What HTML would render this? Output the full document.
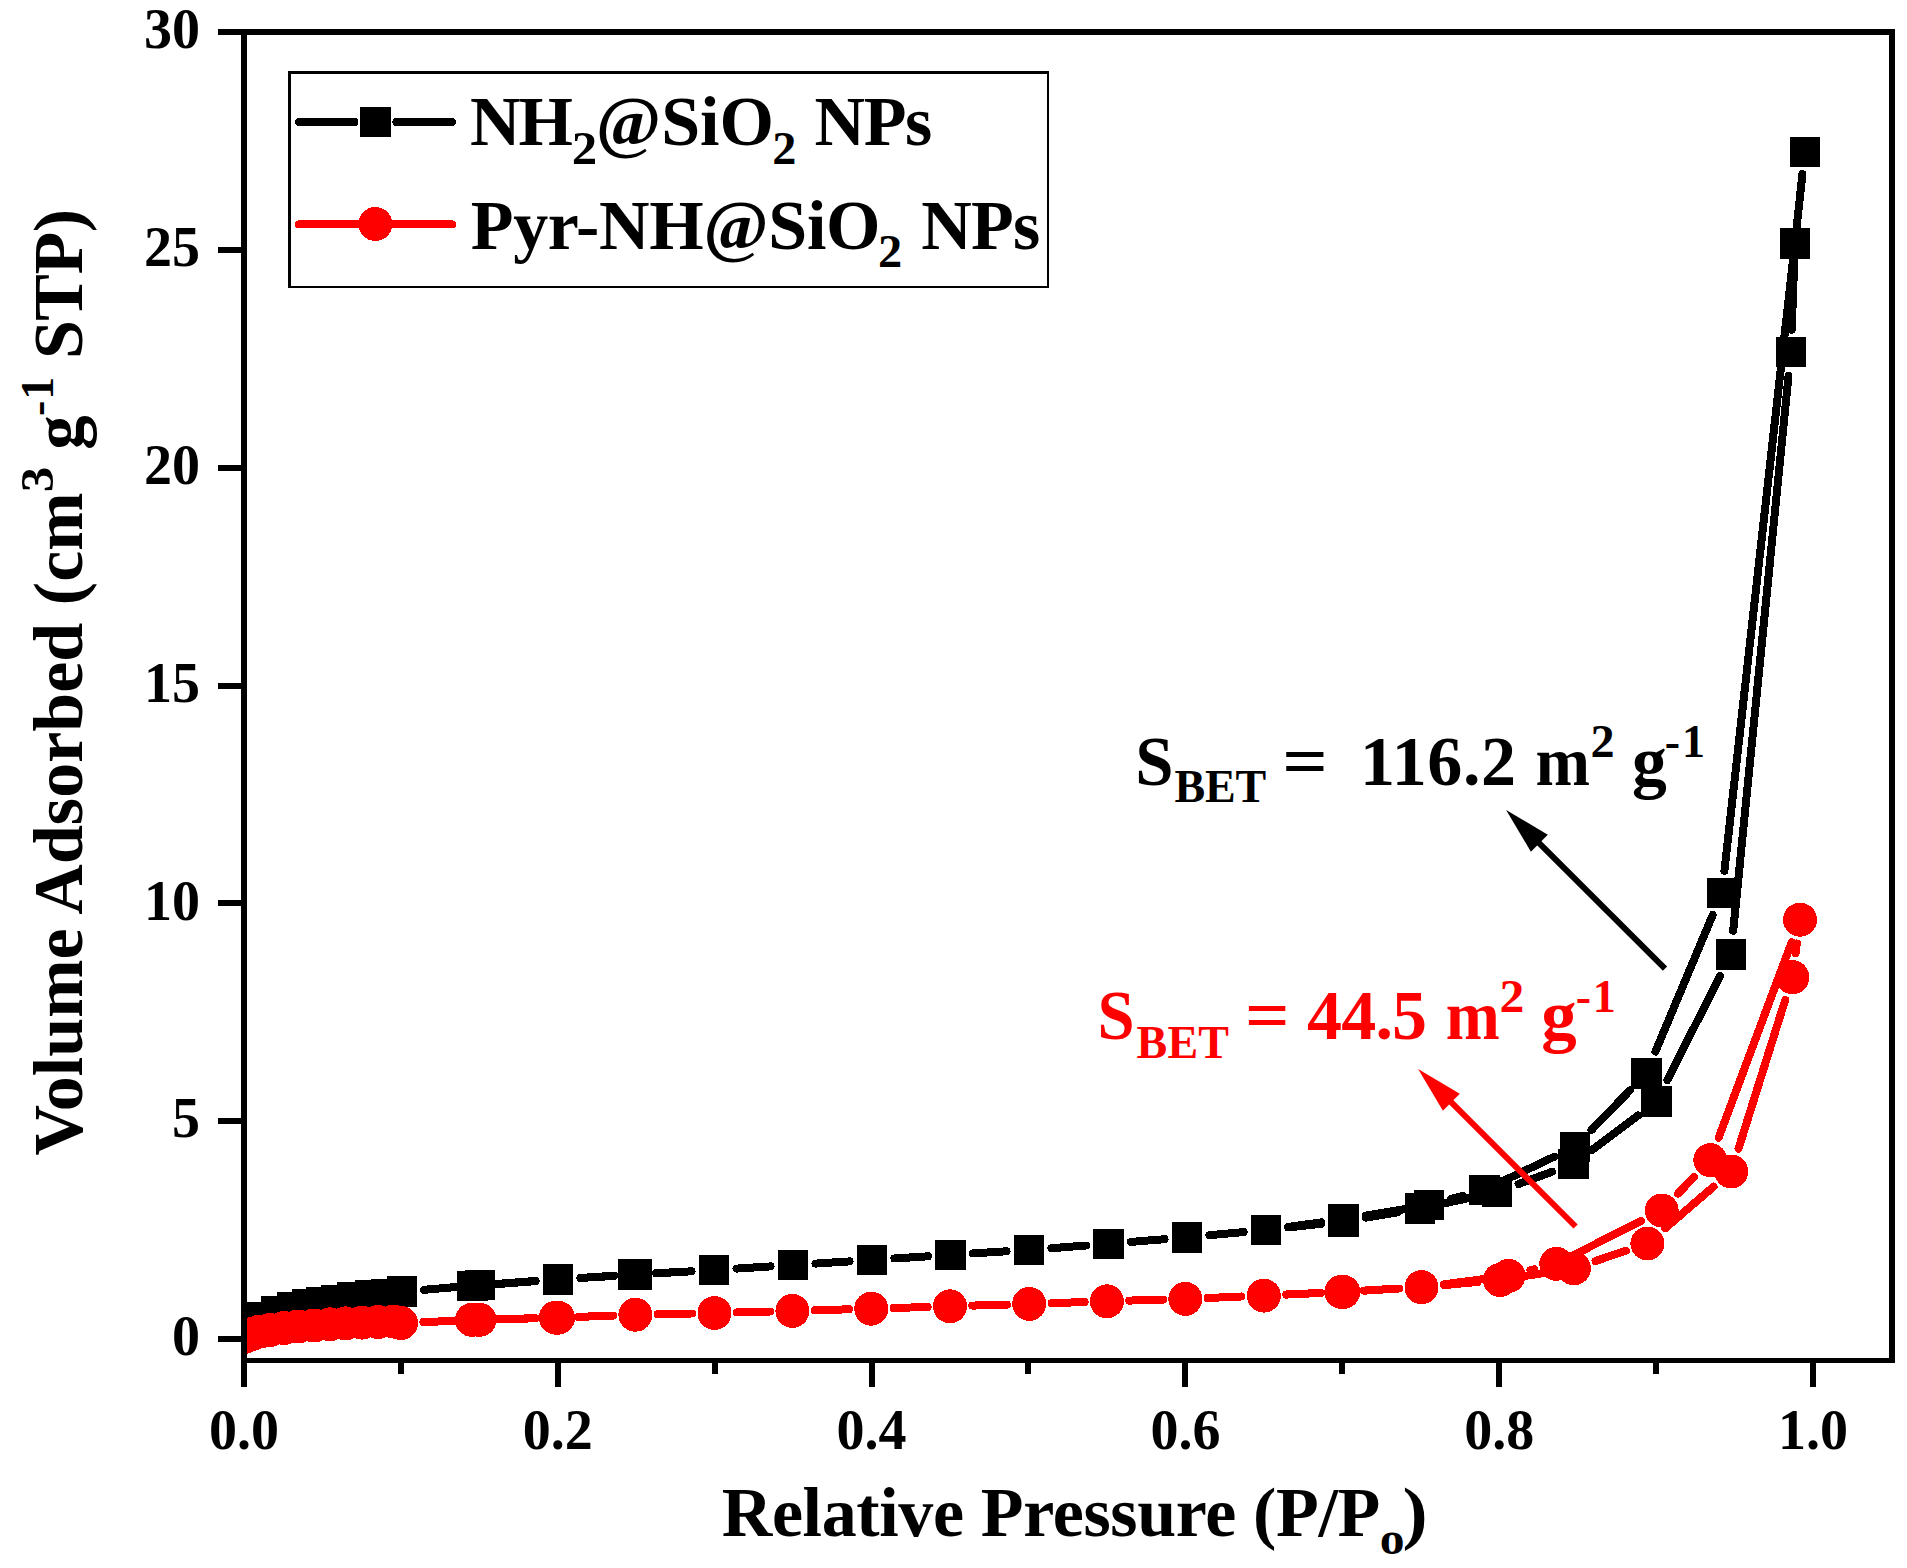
<!DOCTYPE html>
<html lang="en"><head><meta charset="utf-8"><title>N2 adsorption isotherms</title>
<style>html,body{margin:0;padding:0;background:#fff}body{width:1907px;height:1568px;overflow:hidden}svg{display:block}</style>
</head><body>
<svg width="1907" height="1568" viewBox="0 0 1907 1568">
<defs><clipPath id="plot"><rect x="244" y="32" width="1648" height="1328.5"/></clipPath></defs>
<rect width="1907" height="1568" fill="#fff"/>
<g clip-path="url(#plot)" shape-rendering="crispEdges">
<g stroke="#000" stroke-width="8.0" stroke-linecap="round" fill="none"><line x1="424.2" y1="1289.8" x2="457.6" y2="1286.9"/><line x1="502.4" y1="1283.4" x2="535.6" y2="1281.0"/><line x1="580.4" y1="1278.0" x2="614.2" y2="1275.9"/><line x1="659.0" y1="1273.2" x2="691.6" y2="1271.3"/><line x1="736.4" y1="1268.6" x2="770.6" y2="1266.4"/><line x1="815.4" y1="1263.6" x2="849.6" y2="1261.4"/><line x1="894.4" y1="1258.5" x2="928.0" y2="1256.3"/><line x1="972.8" y1="1253.4" x2="1006.6" y2="1251.3"/><line x1="1051.4" y1="1248.2" x2="1086.1" y2="1245.5"/><line x1="1130.9" y1="1241.9" x2="1164.6" y2="1239.2"/><line x1="1209.4" y1="1235.2" x2="1243.6" y2="1232.1"/><line x1="1288.3" y1="1227.5" x2="1321.2" y2="1223.8"/><line x1="1365.8" y1="1217.6" x2="1397.7" y2="1212.4"/><line x1="1442.1" y1="1203.9" x2="1475.0" y2="1196.7"/><line x1="1518.6" y1="1184.0" x2="1552.0" y2="1171.8"/><line x1="1592.1" y1="1149.9" x2="1638.1" y2="1115.4"/><line x1="1667.4" y1="1080.1" x2="1720.1" y2="975.9"/><line x1="1733.2" y1="930.7" x2="1788.5" y2="375.9"/><line x1="1791.8" y1="328.0" x2="1794.0" y2="267.2"/><line x1="1797.5" y1="219.3" x2="1802.2" y2="175.8"/></g>
<g stroke="#000" stroke-width="8.0" stroke-linecap="round" fill="none"><line x1="1802.2" y1="175.8" x2="1797.5" y2="219.3"/><line x1="1792.2" y1="267.0" x2="1724.6" y2="869.2"/><line x1="1712.7" y1="915.0" x2="1655.4" y2="1051.6"/><line x1="1629.8" y1="1090.5" x2="1591.5" y2="1129.9"/><line x1="1554.3" y1="1156.7" x2="1505.4" y2="1179.9"/><line x1="1462.7" y1="1195.8" x2="1450.9" y2="1199.1"/><line x1="1406.7" y1="1208.8" x2="1365.8" y2="1215.6"/><line x1="1321.2" y1="1222.4" x2="1288.3" y2="1226.9"/><line x1="1243.6" y1="1232.1" x2="1209.4" y2="1235.2"/><line x1="1164.6" y1="1239.2" x2="1130.9" y2="1241.9"/><line x1="1086.1" y1="1245.5" x2="1051.4" y2="1248.2"/><line x1="1006.6" y1="1251.3" x2="972.8" y2="1253.4"/><line x1="928.0" y1="1256.3" x2="894.4" y2="1258.5"/><line x1="849.6" y1="1261.4" x2="815.4" y2="1263.6"/><line x1="770.6" y1="1266.4" x2="736.4" y2="1268.6"/><line x1="691.6" y1="1271.3" x2="656.0" y2="1273.2"/><line x1="611.2" y1="1275.9" x2="580.4" y2="1278.0"/><line x1="535.6" y1="1281.1" x2="494.6" y2="1284.3"/></g>
<g stroke="#000" stroke-width="8.0" stroke-linecap="round" fill="none"><line x1="1794.9" y1="243.2" x2="1724.4" y2="870.8"/><line x1="1794.9" y1="243.2" x2="1791.7" y2="329.7"/><line x1="1802.4" y1="174.1" x2="1794.9" y2="243.2"/></g>
<g fill="#000" shape-rendering="crispEdges"><rect x="230.2" y="1302.3" width="30.6" height="30.6"/><rect x="261.1" y="1296.3" width="30.6" height="30.6"/><rect x="277.2" y="1292.3" width="30.6" height="30.6"/><rect x="292.3" y="1289.3" width="30.6" height="30.6"/><rect x="306.2" y="1287.2" width="30.6" height="30.6"/><rect x="321.2" y="1285.3" width="30.6" height="30.6"/><rect x="337.2" y="1282.4" width="30.6" height="30.6"/><rect x="355.2" y="1280.1" width="30.6" height="30.6"/><rect x="371.3" y="1279.3" width="30.6" height="30.6"/><rect x="386.5" y="1276.4" width="30.6" height="30.6"/><rect x="464.7" y="1269.7" width="30.6" height="30.6"/><rect x="542.7" y="1264.1" width="30.6" height="30.6"/><rect x="621.3" y="1259.2" width="30.6" height="30.6"/><rect x="698.7" y="1254.7" width="30.6" height="30.6"/><rect x="777.7" y="1249.7" width="30.6" height="30.6"/><rect x="856.7" y="1244.7" width="30.6" height="30.6"/><rect x="935.1" y="1239.5" width="30.6" height="30.6"/><rect x="1013.7" y="1234.6" width="30.6" height="30.6"/><rect x="1093.2" y="1228.5" width="30.6" height="30.6"/><rect x="1171.7" y="1222.0" width="30.6" height="30.6"/><rect x="1250.7" y="1214.7" width="30.6" height="30.6"/><rect x="1328.2" y="1206.0" width="30.6" height="30.6"/><rect x="1404.7" y="1193.4" width="30.6" height="30.6"/><rect x="1481.8" y="1176.6" width="30.6" height="30.6"/><rect x="1558.2" y="1148.6" width="30.6" height="30.6"/><rect x="1641.4" y="1086.1" width="30.6" height="30.6"/><rect x="1715.5" y="939.3" width="30.6" height="30.6"/><rect x="1775.6" y="336.7" width="30.6" height="30.6"/><rect x="1779.6" y="227.9" width="30.6" height="30.6"/><rect x="1789.5" y="136.6" width="30.6" height="30.6"/><rect x="1789.5" y="136.6" width="30.6" height="30.6"/><rect x="1779.6" y="227.9" width="30.6" height="30.6"/><rect x="1706.6" y="877.7" width="30.6" height="30.6"/><rect x="1630.9" y="1058.3" width="30.6" height="30.6"/><rect x="1559.8" y="1131.5" width="30.6" height="30.6"/><rect x="1469.3" y="1174.5" width="30.6" height="30.6"/><rect x="1413.7" y="1189.8" width="30.6" height="30.6"/><rect x="1328.2" y="1204.0" width="30.6" height="30.6"/><rect x="1250.7" y="1214.7" width="30.6" height="30.6"/><rect x="1171.7" y="1222.0" width="30.6" height="30.6"/><rect x="1093.2" y="1228.5" width="30.6" height="30.6"/><rect x="1013.7" y="1234.6" width="30.6" height="30.6"/><rect x="935.1" y="1239.5" width="30.6" height="30.6"/><rect x="856.7" y="1244.7" width="30.6" height="30.6"/><rect x="777.7" y="1249.7" width="30.6" height="30.6"/><rect x="698.7" y="1254.7" width="30.6" height="30.6"/><rect x="618.3" y="1259.2" width="30.6" height="30.6"/><rect x="542.7" y="1264.1" width="30.6" height="30.6"/><rect x="456.9" y="1270.7" width="30.6" height="30.6"/></g>
<g stroke="#fe0000" stroke-width="8.0" stroke-linecap="round" fill="none"><line x1="423.4" y1="1322.1" x2="457.1" y2="1320.7"/><line x1="501.8" y1="1319.2" x2="535.7" y2="1318.3"/><line x1="580.3" y1="1316.8" x2="613.1" y2="1315.6"/><line x1="657.7" y1="1314.2" x2="692.2" y2="1313.5"/><line x1="736.8" y1="1312.4" x2="770.1" y2="1311.5"/><line x1="814.7" y1="1310.3" x2="849.0" y2="1309.3"/><line x1="893.6" y1="1308.0" x2="927.7" y2="1307.0"/><line x1="972.3" y1="1305.6" x2="1006.9" y2="1304.6"/><line x1="1051.5" y1="1303.2" x2="1084.6" y2="1302.0"/><line x1="1129.2" y1="1300.6" x2="1163.0" y2="1299.6"/><line x1="1207.7" y1="1298.0" x2="1241.4" y2="1296.5"/><line x1="1286.2" y1="1294.6" x2="1320.9" y2="1292.9"/><line x1="1365.7" y1="1290.6" x2="1399.1" y2="1288.5"/><line x1="1443.9" y1="1285.1" x2="1477.6" y2="1282.0"/><line x1="1522.3" y1="1276.4" x2="1551.6" y2="1271.8"/><line x1="1595.5" y1="1261.0" x2="1625.8" y2="1250.8"/><line x1="1665.2" y1="1228.3" x2="1713.5" y2="1186.7"/><line x1="1738.5" y1="1148.7" x2="1785.2" y2="1000.0"/><line x1="1795.5" y1="953.4" x2="1796.9" y2="943.5"/></g>
<g stroke="#fe0000" stroke-width="8.0" stroke-linecap="round" fill="none"><line x1="1791.7" y1="942.1" x2="1718.6" y2="1137.8"/><line x1="1694.0" y1="1177.1" x2="1678.0" y2="1193.6"/><line x1="1641.1" y1="1220.9" x2="1576.9" y2="1253.4"/><line x1="1534.3" y1="1269.4" x2="1530.5" y2="1270.3"/><line x1="1486.2" y1="1278.8" x2="1443.8" y2="1284.3"/><line x1="1399.1" y1="1288.5" x2="1363.7" y2="1290.6"/><line x1="1318.9" y1="1293.0" x2="1286.2" y2="1294.5"/><line x1="1241.4" y1="1296.5" x2="1207.7" y2="1298.0"/><line x1="1163.0" y1="1299.6" x2="1129.2" y2="1300.6"/><line x1="1084.6" y1="1302.0" x2="1051.5" y2="1303.2"/><line x1="1006.9" y1="1304.6" x2="972.3" y2="1305.6"/><line x1="927.7" y1="1307.0" x2="893.6" y2="1308.0"/><line x1="849.0" y1="1309.3" x2="814.7" y2="1310.3"/><line x1="770.1" y1="1311.5" x2="736.8" y2="1312.4"/><line x1="692.2" y1="1313.5" x2="657.7" y2="1314.2"/><line x1="613.1" y1="1315.5" x2="578.1" y2="1316.9"/><line x1="533.5" y1="1318.3" x2="494.3" y2="1319.2"/></g>
<g fill="#fe0000"><circle cx="244.5" cy="1337.0" r="17.0"/><circle cx="252.0" cy="1334.0" r="17.0"/><circle cx="260.0" cy="1331.5" r="17.0"/><circle cx="270.0" cy="1330.0" r="17.0"/><circle cx="284.0" cy="1328.0" r="17.0"/><circle cx="298.0" cy="1326.5" r="17.0"/><circle cx="314.0" cy="1325.5" r="17.0"/><circle cx="330.0" cy="1324.3" r="17.0"/><circle cx="345.5" cy="1323.4" r="17.0"/><circle cx="362.0" cy="1322.6" r="17.0"/><circle cx="378.0" cy="1322.0" r="17.0"/><circle cx="393.5" cy="1321.6" r="17.0"/><circle cx="401.0" cy="1323.0" r="17.0"/><circle cx="479.5" cy="1319.8" r="17.0"/><circle cx="558.0" cy="1317.7" r="17.0"/><circle cx="635.4" cy="1314.7" r="17.0"/><circle cx="714.5" cy="1313.0" r="17.0"/><circle cx="792.4" cy="1310.9" r="17.0"/><circle cx="871.3" cy="1308.7" r="17.0"/><circle cx="950.0" cy="1306.3" r="17.0"/><circle cx="1029.2" cy="1303.9" r="17.0"/><circle cx="1106.9" cy="1301.3" r="17.0"/><circle cx="1185.3" cy="1298.9" r="17.0"/><circle cx="1263.8" cy="1295.6" r="17.0"/><circle cx="1343.3" cy="1291.9" r="17.0"/><circle cx="1421.5" cy="1287.2" r="17.0"/><circle cx="1500.0" cy="1279.9" r="17.0"/><circle cx="1573.9" cy="1268.3" r="17.0"/><circle cx="1647.4" cy="1243.5" r="17.0"/><circle cx="1731.3" cy="1171.5" r="17.0"/><circle cx="1792.4" cy="977.2" r="17.0"/><circle cx="1800.0" cy="919.7" r="17.0"/><circle cx="1800.0" cy="919.7" r="17.0"/><circle cx="1710.3" cy="1160.2" r="17.0"/><circle cx="1661.7" cy="1210.5" r="17.0"/><circle cx="1556.3" cy="1263.8" r="17.0"/><circle cx="1508.5" cy="1275.9" r="17.0"/><circle cx="1421.5" cy="1287.2" r="17.0"/><circle cx="1341.3" cy="1291.9" r="17.0"/><circle cx="1263.8" cy="1295.6" r="17.0"/><circle cx="1185.3" cy="1298.9" r="17.0"/><circle cx="1106.9" cy="1301.3" r="17.0"/><circle cx="1029.2" cy="1303.9" r="17.0"/><circle cx="950.0" cy="1306.3" r="17.0"/><circle cx="871.3" cy="1308.7" r="17.0"/><circle cx="792.4" cy="1310.9" r="17.0"/><circle cx="714.5" cy="1313.0" r="17.0"/><circle cx="635.4" cy="1314.7" r="17.0"/><circle cx="555.8" cy="1317.7" r="17.0"/><circle cx="472.0" cy="1319.8" r="17.0"/></g>
</g>
<g fill="#000" shape-rendering="crispEdges"><rect x="218" y="29" width="1677" height="6"/><rect x="241" y="29" width="6" height="1358"/><rect x="1889" y="29" width="6" height="1334"/><rect x="241" y="1358" width="1654" height="5"/><rect x="218" y="1336" width="26" height="6"/><rect x="218" y="1118" width="26" height="6"/><rect x="218" y="900" width="26" height="6"/><rect x="218" y="683" width="26" height="6"/><rect x="218" y="465" width="26" height="6"/><rect x="218" y="247" width="26" height="6"/><rect x="555" y="1360" width="6" height="27"/><rect x="869" y="1360" width="6" height="27"/><rect x="1182" y="1360" width="6" height="27"/><rect x="1496" y="1360" width="6" height="27"/><rect x="1810" y="1360" width="6" height="27"/><rect x="398" y="1360" width="6" height="14"/><rect x="712" y="1360" width="6" height="14"/><rect x="1025" y="1360" width="6" height="14"/><rect x="1339" y="1360" width="6" height="14"/><rect x="1653" y="1360" width="6" height="14"/></g>
<g font-family="'Liberation Serif', serif" font-weight="bold" font-size="56" fill="#000"><text x="200" y="1355.2" text-anchor="end">0</text><text x="200" y="1137.4" text-anchor="end">5</text><text x="200" y="919.5" text-anchor="end">10</text><text x="200" y="701.7" text-anchor="end">15</text><text x="200" y="483.9" text-anchor="end">20</text><text x="200" y="266.0" text-anchor="end">25</text><text x="200" y="48.2" text-anchor="end">30</text><text x="244.0" y="1449.2" text-anchor="middle">0.0</text><text x="557.8" y="1449.2" text-anchor="middle">0.2</text><text x="871.6" y="1449.2" text-anchor="middle">0.4</text><text x="1185.4" y="1449.2" text-anchor="middle">0.6</text><text x="1499.2" y="1449.2" text-anchor="middle">0.8</text><text x="1813.0" y="1449.2" text-anchor="middle">1.0</text></g>
<text font-family="'Liberation Serif', serif" font-weight="bold" fill="#000" xml:space="preserve"><tspan x="721.70" y="1535.80" font-size="70" letter-spacing="-0.357">Relative Pressure (P/P</tspan><tspan x="1379.74" y="1554.00" font-size="46" textLength="24.82" lengthAdjust="spacingAndGlyphs">o</tspan><tspan x="1402.44" y="1535.80" font-size="70" textLength="25.13" lengthAdjust="spacingAndGlyphs">)</tspan></text>
<text font-family="'Liberation Serif', serif" font-weight="bold" fill="#000" xml:space="preserve" transform="translate(82.3,1154.5) rotate(-90)"><tspan x="-1.00" y="0.00" font-size="70" letter-spacing="0.039">Volume Adsorbed (cm</tspan><tspan x="662.28" y="-29.70" font-size="46" textLength="25.54" lengthAdjust="spacingAndGlyphs">3</tspan> <tspan x="704.73" y="0.00" font-size="70" textLength="34.45" lengthAdjust="spacingAndGlyphs">g</tspan><tspan x="738.60" y="-29.70" font-size="46" letter-spacing="0.900">-1</tspan> <tspan x="795.40" y="0.00" font-size="70" letter-spacing="-0.500">STP)</tspan></text>
<rect x="289.25" y="72.25" width="758.5" height="214.5" fill="#fff" stroke="#000" stroke-width="2.5" shape-rendering="crispEdges"/>
<g stroke-width="8" stroke-linecap="round" shape-rendering="crispEdges"><line x1="299" y1="122" x2="354.4" y2="122" stroke="#000"/><line x1="396.4" y1="122" x2="452" y2="122" stroke="#000"/><line x1="299" y1="224.4" x2="452" y2="224.4" stroke="#fe0000"/></g>
<rect x="360.2" y="106.6" width="30.6" height="30.6" fill="#000" shape-rendering="crispEdges"/>
<circle cx="375.4" cy="224" r="17" fill="#fe0000" shape-rendering="crispEdges"/>
<text font-family="'Liberation Serif', serif" font-weight="bold" fill="#000" xml:space="preserve"><tspan x="470.00" y="145.30" font-size="70" letter-spacing="-2.000">NH</tspan><tspan x="571.79" y="164.00" font-size="46" textLength="25.42" lengthAdjust="spacingAndGlyphs">2</tspan><tspan x="596.00" y="145.30" font-size="70" letter-spacing="0.033">@SiO</tspan><tspan x="772.21" y="164.00" font-size="46" textLength="24.09" lengthAdjust="spacingAndGlyphs">2</tspan> <tspan x="814.60" y="145.30" font-size="70" letter-spacing="-1.500">NPs</tspan></text>
<text font-family="'Liberation Serif', serif" font-weight="bold" fill="#000" xml:space="preserve"><tspan x="470.70" y="248.50" font-size="70" letter-spacing="-0.289">Pyr-NH@SiO</tspan><tspan x="878.09" y="267.20" font-size="46" textLength="24.21" lengthAdjust="spacingAndGlyphs">2</tspan> <tspan x="921.20" y="248.50" font-size="70" letter-spacing="-0.800">NPs</tspan></text>
<text font-family="'Liberation Serif', serif" font-weight="bold" fill="#000" xml:space="preserve"><tspan x="1135.36" y="785.40" font-size="70" textLength="38.33" lengthAdjust="spacingAndGlyphs">S</tspan><tspan x="1174.50" y="802.30" font-size="46" letter-spacing="-0.150">BET</tspan> <tspan x="1282.27" y="785.40" font-size="70" textLength="45.57" lengthAdjust="spacingAndGlyphs">=</tspan> <tspan x="1359.90" y="785.40" font-size="70" letter-spacing="0.625">116.2</tspan> <tspan x="1535.43" y="785.40" font-size="70" textLength="54.50" lengthAdjust="spacingAndGlyphs">m</tspan><tspan x="1590.61" y="756.80" font-size="46" textLength="24.09" lengthAdjust="spacingAndGlyphs">2</tspan> <tspan x="1632.01" y="785.40" font-size="70" textLength="34.78" lengthAdjust="spacingAndGlyphs">g</tspan><tspan x="1664.80" y="756.80" font-size="46" letter-spacing="1.900">-1</tspan></text>
<text font-family="'Liberation Serif', serif" font-weight="bold" fill="#fe0000" xml:space="preserve"><tspan x="1097.59" y="1039.30" font-size="70" textLength="37.11" lengthAdjust="spacingAndGlyphs">S</tspan><tspan x="1136.60" y="1057.50" font-size="46" letter-spacing="0.150">BET</tspan> <tspan x="1244.95" y="1039.30" font-size="70" textLength="44.60" lengthAdjust="spacingAndGlyphs">=</tspan> <tspan x="1307.10" y="1039.30" font-size="70" letter-spacing="-0.833">44.5</tspan> <tspan x="1445.65" y="1039.30" font-size="70" textLength="54.07" lengthAdjust="spacingAndGlyphs">m</tspan><tspan x="1499.44" y="1011.90" font-size="46" textLength="24.82" lengthAdjust="spacingAndGlyphs">2</tspan> <tspan x="1541.17" y="1039.30" font-size="70" textLength="35.44" lengthAdjust="spacingAndGlyphs">g</tspan><tspan x="1575.80" y="1011.90" font-size="46" letter-spacing="1.600">-1</tspan></text>
<line x1="1665.0" y1="968.6" x2="1537.9" y2="841.8" stroke="#000" stroke-width="6"/><polygon points="1506.1,810.0 1547.8,834.7 1530.9,851.7" fill="#000"/>
<line x1="1575.6" y1="1226.5" x2="1449.9" y2="1100.9" stroke="#fe0000" stroke-width="6"/><polygon points="1418.1,1069.1 1459.8,1093.8 1442.9,1110.8" fill="#fe0000"/>
</svg>
</body></html>
